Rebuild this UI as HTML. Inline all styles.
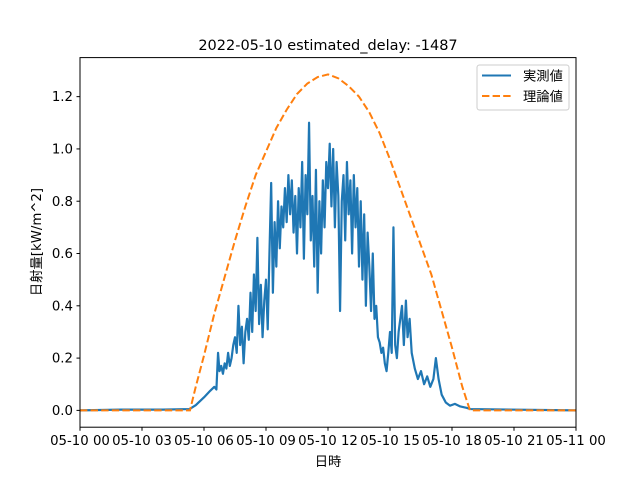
<!DOCTYPE html>
<html><head><meta charset="utf-8"><style>
body{margin:0;background:#fff;}
svg text{font-family:"DejaVu Sans","Noto Sans CJK JP",sans-serif;fill:#000;}
</style></head><body>
<svg id="chart" width="640" height="480" xmlns="http://www.w3.org/2000/svg">
<rect width="640" height="480" fill="#fff"/>
<text x="328" y="50" font-size="14.5" text-anchor="middle">2022-05-10 estimated_delay: -1487</text>
<g id="plot"></g>
</svg>
<script>
const xTickLabels = ["05-10 00","05-10 03","05-10 06","05-10 09","05-10 12","05-10 15","05-10 18","05-10 21","05-11 00"];
const yTickValues = [0.0,0.2,0.4,0.6,0.8,1.0,1.2];
const yTickLabels = ["0.0","0.2","0.4","0.6","0.8","1.0","1.2"];
const theoryHours = [0,5,5.32,5.6,6,6.5,7,7.5,8,8.5,9,9.5,10,10.5,11,11.5,12,12.5,13,13.5,14,14.5,15,15.5,16,16.5,17,17.5,18,18.5,18.87,24];
const theoryValues = [0,0,0,0.09,0.21,0.37,0.51,0.65,0.78,0.90,0.99,1.08,1.15,1.21,1.25,1.275,1.285,1.27,1.24,1.20,1.14,1.06,0.96,0.85,0.74,0.63,0.52,0.38,0.24,0.09,0,0];
const measEarlyHours = [0,2,4,5.3,5.6,6,6.3,6.5,6.6,6.68];
const measEarlyValues = [0,0.003,0.003,0.005,0.02,0.05,0.075,0.09,0.08,0.22];
const measDenseStart = 6.75;
const measDenseStepMin = 5;
const measDenseValues = [
0.15,0.17,0.14,0.18,0.16,0.22,0.17,0.2,0.25,
0.28,0.22,0.40,0.25,0.32,0.18,0.30,0.35,0.27,
0.45,0.30,0.52,0.38,0.66,0.33,0.48,0.28,0.42,
0.50,0.31,0.60,0.87,0.45,0.72,0.55,0.80,0.62,
0.78,0.70,0.85,0.72,0.90,0.75,0.88,0.68,0.82,
0.60,0.85,0.70,0.95,0.58,0.90,0.75,1.10,0.65,
0.82,0.55,0.92,0.45,0.80,0.60,0.88,0.70,0.95,
0.85,1.02,0.78,1.0,0.70,0.95,0.82,0.38,0.80,
0.90,0.65,0.95,0.75,0.88,0.60,0.90,0.70,0.85,
0.55,0.80,0.50,0.75,0.40,0.68,0.55,0.38,0.60,
0.35,0.40,0.28,0.26,0.22,0.24,0.18,0.15,0.22,
0.30,0.22,0.70,0.25,0.20,0.30];
const measLateHours = [15.58,15.67,15.77,15.85,15.95,16.05,16.2,16.35,16.5,16.65,16.8,16.95,17.1,17.22,17.35,17.5,17.7,17.9,18.14,18.4,18.7,18.9,24];
const measLateValues = [0.40,0.25,0.42,0.28,0.35,0.22,0.16,0.12,0.15,0.10,0.13,0.09,0.12,0.20,0.12,0.06,0.03,0.018,0.025,0.015,0.01,0.005,0];

const NS="http://www.w3.org/2000/svg";
const L=80,R=576,T=57.6,B=427.2;
const yMin=-0.0643,yMax=1.3493;
const xs=h=>L+(h/24)*(R-L);
const ys=v=>B-(v-yMin)/(yMax-yMin)*(B-T);
const g=document.getElementById('plot');
function mk(tag,attrs,parent){const e=document.createElementNS(NS,tag);for(const k in attrs)e.setAttribute(k,attrs[k]);(parent||g).appendChild(e);return e;}

const mh=[],mv=[];
measEarlyHours.forEach((h,i)=>{mh.push(h);mv.push(measEarlyValues[i]);});
measDenseValues.forEach((v,i)=>{mh.push(measDenseStart+i*measDenseStepMin/60);mv.push(v);});
measLateHours.forEach((h,i)=>{mh.push(h);mv.push(measLateValues[i]);});
const clip=mk('clipPath',{id:'pc'});mk('rect',{x:L,y:T,width:R-L,height:B-T},clip);
const mline=mk('polyline',{points:mh.map((h,i)=>xs(h).toFixed(2)+','+ys(mv[i]).toFixed(2)).join(' '),fill:'none',stroke:'#1f77b4','stroke-width':2.2,'stroke-linejoin':'round','clip-path':'url(#pc)'});


const tline=mk('polyline',{points:theoryHours.map((h,i)=>xs(h).toFixed(2)+','+ys(theoryValues[i]).toFixed(2)).join(' '),fill:'none',stroke:'#ff7f0e','stroke-width':2,'stroke-dasharray':'7.4,3.2','clip-path':'url(#pc)'});



const frame=mk('rect',{x:L,y:T,width:R-L,height:B-T,fill:'none',stroke:'#000','stroke-width':1});



xTickLabels.forEach((lab,i)=>{
  const x=xs(i*3);
  const t=mk('line',{x1:x,x2:x,y1:B,y2:B+3.5,stroke:'#000'});
  
  
  const tx=mk('text',{x:x,y:B+18,'font-size':13.3,'text-anchor':'middle'});
  tx.textContent=lab;
  
  
});
yTickValues.forEach((v,i)=>{
  const y=ys(v);
  const t=mk('line',{x1:L-3.5,x2:L,y1:y,y2:y,stroke:'#000'});
  
  
  const tx=mk('text',{x:L-7,y:y+4.6,'font-size':13.3,'text-anchor':'end'});
  tx.textContent=yTickLabels[i];
  
  
});
const xl=mk('text',{x:328,y:466,'font-size':13.3,'text-anchor':'middle'});
xl.textContent='日時';


const yl=mk('text',{x:0,y:0,'font-size':13.3,'text-anchor':'middle',transform:'translate(41,242) rotate(-90)'});
yl.textContent='日射量[kW/m^2]';



const lg=mk('g',{});


mk('rect',{x:477,y:65,width:92,height:45,rx:2.5,fill:'#fff','fill-opacity':0.8,stroke:'#ccc'},lg);
const le1=mk('g',{},lg);


mk('line',{x1:482,x2:511,y1:75.5,y2:75.5,stroke:'#1f77b4','stroke-width':2},le1);
const t1=mk('text',{x:523,y:80.5,'font-size':13.3},le1);t1.textContent='実測値';
const le2=mk('g',{},lg);


mk('line',{x1:482,x2:511,y1:96,y2:96,stroke:'#ff7f0e','stroke-width':2,'stroke-dasharray':'7.4,3.2'},le2);
const t2=mk('text',{x:523,y:101,'font-size':13.3},le2);t2.textContent='理論値';
</script>
</body></html>
